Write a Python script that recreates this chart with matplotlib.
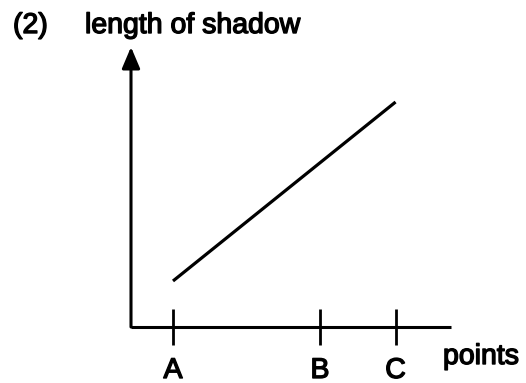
import matplotlib
matplotlib.use("Agg")
import matplotlib.pyplot as plt
import matplotlib.patheffects as pe

# ---- data ----
point_labels = ["A", "B", "C"]
point_positions = [1.0, 4.5, 6.3]          # positions along the "points" axis
line_points = ["A", "C"]                    # the shadow line runs from A to C
shadow_length = [4.6, 22.5]                 # relative length of shadow
x_max = 7.62
y_max = 28.0

plt.rcParams['font.family'] = ['Liberation Sans', 'DejaVu Sans']

W, H = 526, 383
fig = plt.figure(figsize=(W / 100, H / 100), dpi=100)
fig.patch.set_facecolor("white")

thick = [pe.withStroke(linewidth=1.0, foreground="black")]

# axes placed to match reference (pixel geometry)
left_px, right_px, bottom_px, top_px = 131, 451, 327, 47
ax = fig.add_axes([left_px / W, 1 - bottom_px / H,
                   (right_px - left_px) / W, (bottom_px - top_px) / H])
ax.set_xlim(0, x_max)
ax.set_ylim(0, y_max)
ax.patch.set_alpha(0)

for s in ["top", "right", "left"]:
    ax.spines[s].set_visible(False)
ax.spines["bottom"].set_linewidth(2.2)
ax.spines["bottom"].set_capstyle("butt")

ax.set_yticks([])
ax.set_xticks(point_positions, point_labels)
ax.tick_params(axis="x", direction="inout", length=26.6, width=2.0,
               pad=9, labelsize=20.5, colors="black")
for lab in ax.get_xticklabels():
    lab.set_path_effects(thick)

# vertical axis with arrow head
ax.annotate("", xy=(0, 1), xytext=(0, 0), xycoords="axes fraction",
            textcoords="axes fraction",
            arrowprops=dict(arrowstyle="-|>,head_length=1.3,head_width=0.55",
                            lw=2.2, color="black", shrinkA=0, shrinkB=0,
                            mutation_scale=10),
            annotation_clip=False)

# the shadow line
xs = [point_positions[point_labels.index(p)] for p in line_points]
ax.plot(xs, shadow_length, color="black", lw=2.3, solid_capstyle="butt")

# texts
fig.text(13 / W, 1 - 33 / H, "(2)", fontsize=20.5, va="baseline", ha="left",
         path_effects=thick)
fig.text(85 / W, 1 - 33 / H, "length of shadow", fontsize=20.5,
         va="baseline", ha="left", path_effects=thick)
fig.text(443 / W, 1 - 364 / H, "points", fontsize=20.5, va="baseline",
         ha="left", path_effects=thick)

fig.savefig("out.png", dpi=100, facecolor="white")
